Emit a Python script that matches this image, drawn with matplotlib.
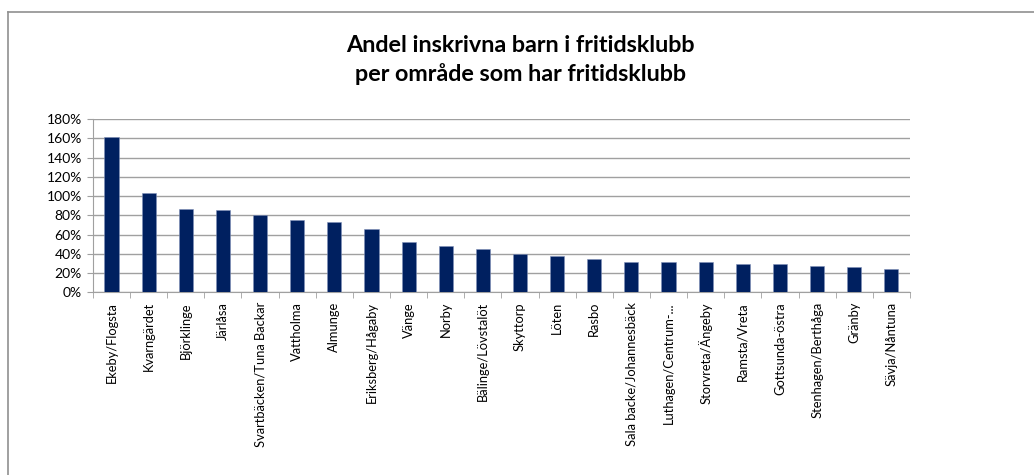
import matplotlib
matplotlib.use("Agg")
import matplotlib.pyplot as plt
from matplotlib.lines import Line2D
from matplotlib.ticker import FuncFormatter

omraden = ["Ekeby/Flogsta", "Kvarngärdet", "Björklinge", "Järlåsa",
           "Svartbäcken/Tuna Backar", "Vattholma", "Almunge", "Eriksberg/Hågaby",
           "Vänge", "Norby", "Bälinge/Lövstalöt", "Skyttorp", "Löten", "Rasbo",
           "Sala backe/Johannesbäck", "Luthagen/Centrum-...", "Storvreta/Ängeby",
           "Ramsta/Vreta", "Gottsunda-östra", "Stenhagen/Berthåga", "Gränby",
           "Sävja/Nåntuna"]
andel = [161, 103, 86.5, 85.2, 80.6, 75.1, 73.4, 66.1, 52.6, 48.1, 45.3, 39.5,
         37.7, 34.9, 31.8, 31.8, 31.8, 29.1, 29.1, 27.3, 26.3, 24.5]
yticks = [0, 20, 40, 60, 80, 100, 120, 140, 160, 180]

plt.rcParams['font.family'] = ['Lato', 'DejaVu Sans']

fig = plt.figure(figsize=(10.34, 4.75), dpi=100)
ax = fig.add_axes([0.0899, 0.3846, 0.880 - 0.0899, 0.7495 - 0.3846])

x = list(range(len(omraden)))
ax.bar(x, andel, width=0.38, color="#002060", edgecolor="#8090b8", linewidth=0.4, zorder=3)

ax.set_xlim(-0.5, len(omraden) - 0.5)
ax.set_ylim(0, 180)
ax.set_yticks(yticks)
ax.yaxis.set_major_formatter(FuncFormatter(lambda v, p: "%d%%" % v))
ax.grid(axis="y", color="#a0a0a0", linewidth=1.0, zorder=0)

ax.set_xticks(x)
ax.set_xticklabels(omraden, rotation=90, fontsize=9.3)
ax.set_xticks([i - 0.5 for i in range(len(omraden) + 1)], minor=True)
ax.tick_params(axis="x", which="major", length=0, pad=7)
ax.tick_params(axis="x", which="minor", length=4, color="#a0a0a0", direction="out")
ax.tick_params(axis="y", length=4, color="#a0a0a0", labelsize=10, pad=4)

for s in ["top", "right"]:
    ax.spines[s].set_visible(False)
ax.spines["left"].set_color("#a0a0a0")
ax.spines["bottom"].set_color("#a0a0a0")

fig.text(0.503, 0.905, "Andel inskrivna barn i fritidsklubb", ha="center", va="center",
         fontsize=16.8, fontweight="bold")
fig.text(0.503, 0.845, "per område som har fritidsklubb", ha="center", va="center",
         fontsize=16.8, fontweight="bold")

# ram runt diagrammet (bara vänster och överkant syns)
fig.add_artist(Line2D([8 / 1034, 8 / 1034], [0, 1 - 12 / 475], transform=fig.transFigure,
                      color="#909090", linewidth=1.2))
fig.add_artist(Line2D([8 / 1034, 1], [1 - 12 / 475, 1 - 12 / 475], transform=fig.transFigure,
                      color="#909090", linewidth=1.2))

fig.savefig("out.png", dpi=100)
